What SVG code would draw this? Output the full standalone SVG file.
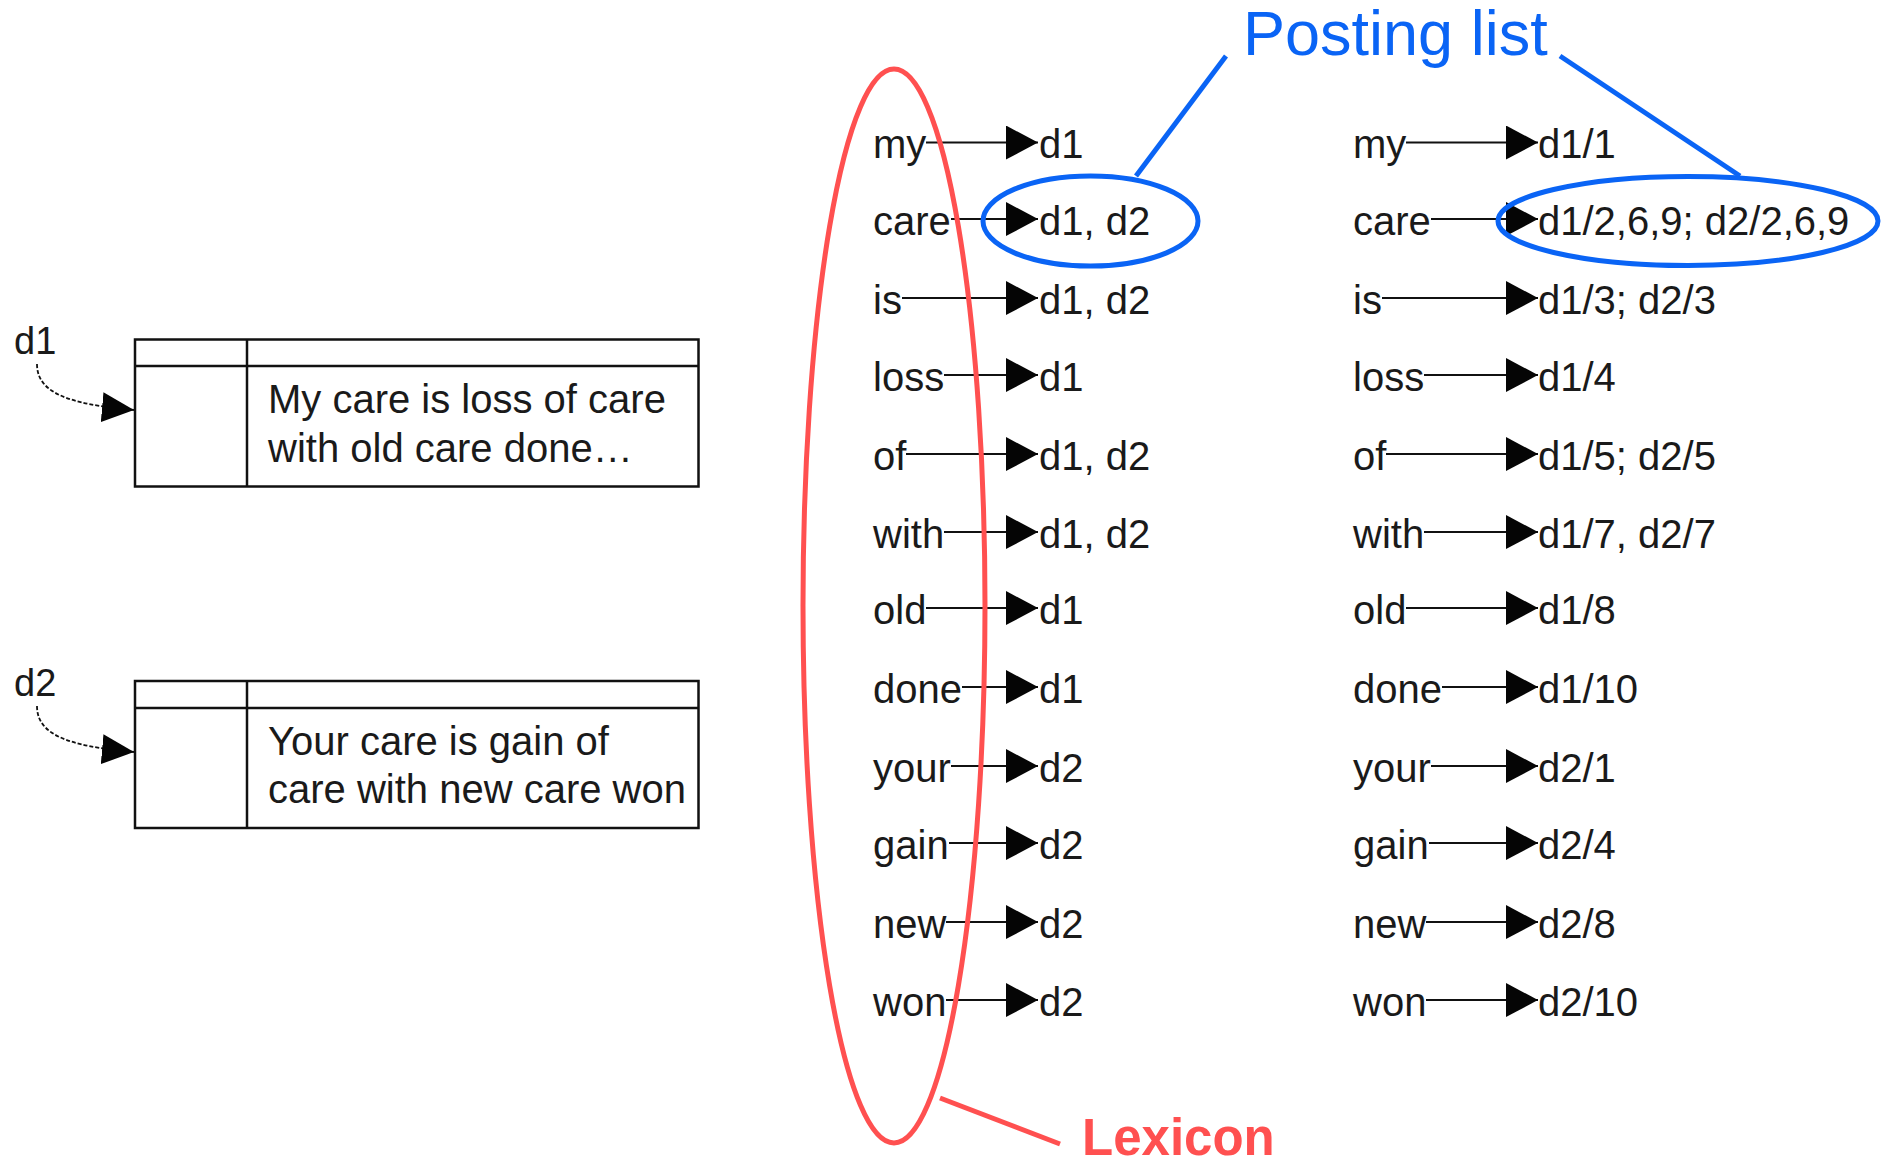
<svg xmlns="http://www.w3.org/2000/svg" width="1887" height="1167" viewBox="0 0 1887 1167">
  <style>
    .t { font-family: "Liberation Sans", Arial, sans-serif; font-size: 40px; fill: #1a1a1a; }
    .lbl { font-family: "Liberation Sans", Arial, sans-serif; font-size: 38px; fill: #1a1a1a; }
    .box { fill: none; stroke: #111; stroke-width: 2.5; }
    .conn { stroke: #111; stroke-width: 2; fill: none; marker-end: url(#tri); }
    .ptr { stroke: #111; stroke-width: 1.8; fill: none; stroke-dasharray: 4 2; marker-end: url(#tri2); }
    .blue { fill: none; stroke: #0A64F5; stroke-width: 5; }
    .red { fill: none; stroke: #FF5050; stroke-width: 5; }
  </style>
  <defs>
    <marker id="tri" viewBox="0 0 32 34" refX="32" refY="17" markerWidth="32" markerHeight="34" markerUnits="userSpaceOnUse" orient="auto">
      <path d="M0,0 L32,17 L0,34 Z" fill="#050505"/>
    </marker>
    <marker id="tri2" viewBox="0 0 32 30" refX="32" refY="15" markerWidth="32" markerHeight="30" markerUnits="userSpaceOnUse" orient="auto">
      <path d="M0,0 L32,15 L0,30 Z" fill="#050505"/>
    </marker>
  </defs>

  <rect width="1887" height="1167" fill="#ffffff"/>

  <!-- documents -->
  <g id="doc-d1">
    <rect class="box" x="135" y="339.5" width="563.5" height="147"/>
    <line class="box" x1="135" y1="366" x2="698.5" y2="366"/>
    <line class="box" x1="247" y1="339.5" x2="247" y2="486.5"/>
    <text class="t" x="268" y="413">My care is loss of care</text>
    <text class="t" x="268" y="462">with old care done…</text>
  </g>
  <g id="doc-d2">
    <rect class="box" x="135" y="681" width="563.5" height="147"/>
    <line class="box" x1="135" y1="708" x2="698.5" y2="708"/>
    <line class="box" x1="247" y1="681" x2="247" y2="828"/>
    <text class="t" x="268" y="755">Your care is gain of</text>
    <text class="t" x="268" y="803">care with new care won</text>
  </g>
  <g id="label-d1">
    <text class="lbl" x="14" y="354">d1</text>
  </g>
  <g id="label-d2">
    <text class="lbl" x="14" y="696">d2</text>
  </g>

  <!-- lexicon terms (left index) -->
  <g id="lexicon-a">
    <text class="t" x="873" y="158">my</text>
    <text class="t" x="873" y="234.5">care</text>
    <text class="t" x="873" y="313.5">is</text>
    <text class="t" x="873" y="390.5">loss</text>
    <text class="t" x="873" y="469.5">of</text>
    <text class="t" x="873" y="547.5">with</text>
    <text class="t" x="873" y="623.5">old</text>
    <text class="t" x="873" y="702.5">done</text>
    <text class="t" x="873" y="781.5">your</text>
    <text class="t" x="873" y="858.5">gain</text>
    <text class="t" x="873" y="937.5">new</text>
    <text class="t" x="873" y="1015.5">won</text>
  </g>
  <g id="postings-a">
    <text class="t" x="1039" y="158">d1</text>
    <text class="t" x="1039" y="234.5">d1, d2</text>
    <text class="t" x="1039" y="313.5">d1, d2</text>
    <text class="t" x="1039" y="390.5">d1</text>
    <text class="t" x="1039" y="469.5">d1, d2</text>
    <text class="t" x="1039" y="547.5">d1, d2</text>
    <text class="t" x="1039" y="623.5">d1</text>
    <text class="t" x="1039" y="702.5">d1</text>
    <text class="t" x="1039" y="781.5">d2</text>
    <text class="t" x="1039" y="858.5">d2</text>
    <text class="t" x="1039" y="937.5">d2</text>
    <text class="t" x="1039" y="1015.5">d2</text>
  </g>

  <!-- lexicon terms (positional index) -->
  <g id="lexicon-b">
    <text class="t" x="1353" y="158">my</text>
    <text class="t" x="1353" y="234.5">care</text>
    <text class="t" x="1353" y="313.5">is</text>
    <text class="t" x="1353" y="390.5">loss</text>
    <text class="t" x="1353" y="469.5">of</text>
    <text class="t" x="1353" y="547.5">with</text>
    <text class="t" x="1353" y="623.5">old</text>
    <text class="t" x="1353" y="702.5">done</text>
    <text class="t" x="1353" y="781.5">your</text>
    <text class="t" x="1353" y="858.5">gain</text>
    <text class="t" x="1353" y="937.5">new</text>
    <text class="t" x="1353" y="1015.5">won</text>
  </g>
  <g id="postings-b">
    <text class="t" x="1538" y="158">d1/1</text>
    <text class="t" x="1538" y="234.5">d1/2,6,9; d2/2,6,9</text>
    <text class="t" x="1538" y="313.5">d1/3; d2/3</text>
    <text class="t" x="1538" y="390.5">d1/4</text>
    <text class="t" x="1538" y="469.5">d1/5; d2/5</text>
    <text class="t" x="1538" y="547.5">d1/7, d2/7</text>
    <text class="t" x="1538" y="623.5">d1/8</text>
    <text class="t" x="1538" y="702.5">d1/10</text>
    <text class="t" x="1538" y="781.5">d2/1</text>
    <text class="t" x="1538" y="858.5">d2/4</text>
    <text class="t" x="1538" y="937.5">d2/8</text>
    <text class="t" x="1538" y="1015.5">d2/10</text>
  </g>

  <!-- connectors -->
  <g id="connectors">
    <path class="ptr" d="M37,364 C37,392 66,404 134,410"/>
    <path class="ptr" d="M37,706 C37,734 66,746 134,752"/>

    <line class="conn" x1="926" y1="142.5" x2="1038" y2="142.5"/>
    <line class="conn" x1="951" y1="219" x2="1038" y2="219"/>
    <line class="conn" x1="902" y1="298" x2="1038" y2="298"/>
    <line class="conn" x1="944" y1="375" x2="1038" y2="375"/>
    <line class="conn" x1="906" y1="454" x2="1038" y2="454"/>
    <line class="conn" x1="944" y1="532" x2="1038" y2="532"/>
    <line class="conn" x1="926" y1="608" x2="1038" y2="608"/>
    <line class="conn" x1="962" y1="687" x2="1038" y2="687"/>
    <line class="conn" x1="951" y1="766" x2="1038" y2="766"/>
    <line class="conn" x1="949" y1="843" x2="1038" y2="843"/>
    <line class="conn" x1="946" y1="922" x2="1038" y2="922"/>
    <line class="conn" x1="946" y1="1000" x2="1038" y2="1000"/>

    <line class="conn" x1="1406" y1="142.5" x2="1538" y2="142.5"/>
    <line class="conn" x1="1431" y1="219" x2="1538" y2="219"/>
    <line class="conn" x1="1382" y1="298" x2="1538" y2="298"/>
    <line class="conn" x1="1424" y1="375" x2="1538" y2="375"/>
    <line class="conn" x1="1386" y1="454" x2="1538" y2="454"/>
    <line class="conn" x1="1424" y1="532" x2="1538" y2="532"/>
    <line class="conn" x1="1406" y1="608" x2="1538" y2="608"/>
    <line class="conn" x1="1442" y1="687" x2="1538" y2="687"/>
    <line class="conn" x1="1431" y1="766" x2="1538" y2="766"/>
    <line class="conn" x1="1429" y1="843" x2="1538" y2="843"/>
    <line class="conn" x1="1426" y1="922" x2="1538" y2="922"/>
    <line class="conn" x1="1426" y1="1000" x2="1538" y2="1000"/>
  </g>

  <!-- callouts -->
  <g id="callout-lexicon">
    <ellipse class="red" cx="894" cy="606" rx="91" ry="537"/>
    <line class="red" x1="940" y1="1098" x2="1060" y2="1144"/>
    <text x="1082" y="1155" font-family="Liberation Sans, Arial, sans-serif" font-size="51" font-weight="bold" fill="#FF5050">Lexicon</text>
  </g>
  <g id="callout-posting">
    <ellipse class="blue" cx="1090.5" cy="221" rx="107.5" ry="45"/>
    <ellipse class="blue" cx="1688" cy="221" rx="190" ry="44.5"/>
    <line class="blue" x1="1136" y1="176" x2="1226" y2="56"/>
    <line class="blue" x1="1560" y1="56" x2="1740" y2="176"/>
    <text x="1243" y="55" font-family="Liberation Sans, Arial, sans-serif" font-size="63" fill="#0A64F5">Posting list</text>
  </g>
</svg>
